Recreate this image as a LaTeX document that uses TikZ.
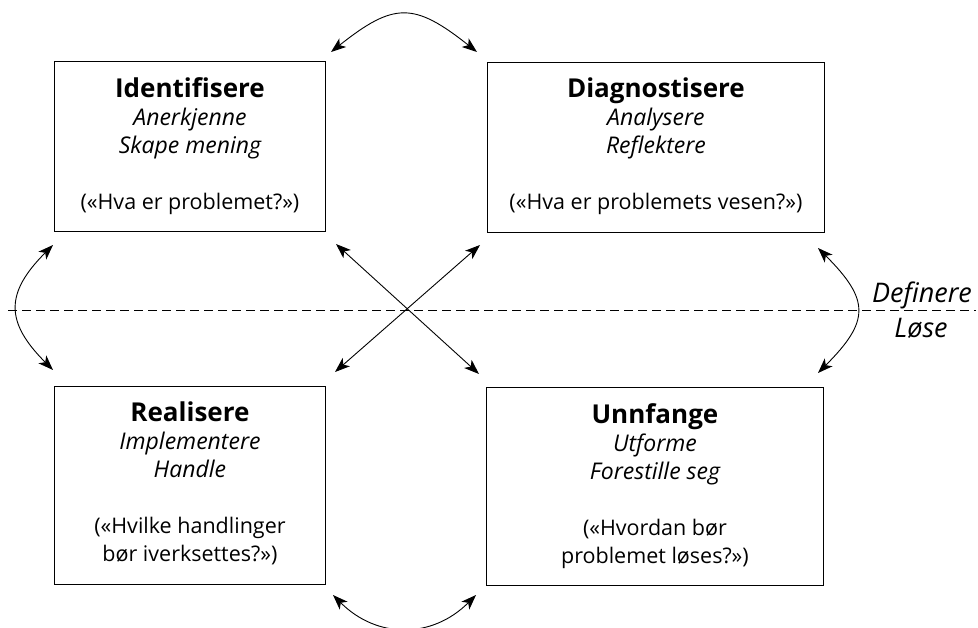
\documentclass[tikz,border=0pt]{standalone}
\usepackage{fontspec}
\setmainfont{Open Sans}
\usetikzlibrary{arrows.meta,calc}

\begin{document}
\begin{tikzpicture}[x=1pt,y=1pt,
  stagebox/.style={draw, line width=0.9pt, inner sep=0pt, anchor=north west},
  stagetext/.style={anchor=north, inner sep=0pt, align=center,
    font=\fontsize{21.5}{28}\selectfont},
  link/.style={line width=0.9pt, {Stealth[length=15pt,width=11pt,inset=4pt]}-{Stealth[length=15pt,width=11pt,inset=4pt]}},
  divider/.style={line width=0.8pt, dash pattern=on 9pt off 5pt},
  sidelabel/.style={anchor=base, inner sep=0pt, font=\fontsize{27}{30}\selectfont\itshape}
]
\useasboundingbox (0,0) rectangle (978,-628);

% the four stage boxes
\node[stagebox, minimum width=271pt, minimum height=170pt] (I) at (54,-61) {};
\node[stagebox, minimum width=337pt, minimum height=170pt] (D) at (487,-62) {};
\node[stagebox, minimum width=271pt, minimum height=198pt] (R) at (54,-386) {};
\node[stagebox, minimum width=337pt, minimum height=198pt] (U) at (486,-387) {};

\newcommand{\stagetitle}[1]{{\fontsize{26}{28}\selectfont\bfseries #1}}
\newcommand{\stageverb}[1]{{\fontsize{23}{28}\selectfont\itshape #1}}

\node[stagetext] (It) at ($(I.north)+(0,-16)$)
  {\stagetitle{Identifisere}\\ \stageverb{Anerkjenne}\\ \stageverb{Skape mening}\\[28pt] («Hva er problemet?»)};
\node[stagetext] (Dt) at ($(D.north)+(0,-16)$)
  {\stagetitle{Diagnostisere}\\ \stageverb{Analysere}\\ \stageverb{Reflektere}\\[28pt] («Hva er problemets vesen?»)};
\node[stagetext] (Rt) at ($(R.north)+(0,-16)$)
  {\stagetitle{Realisere}\\ \stageverb{Implementere}\\ \stageverb{Handle}\\[28pt] («Hvilke handlinger\\ bør iverksettes?»)};
\node[stagetext] (Ut) at ($(U.north)+(0,-16)$)
  {\stagetitle{Unnfange}\\ \stageverb{Utforme}\\ \stageverb{Forestille seg}\\[28pt] («Hvordan bør\\ problemet løses?»)};

% dividing line between defining and solving
\coordinate (dl) at (8,-310);
\coordinate (dr) at (976,-310);
\draw[divider] (dl) -- (dr);
\node[sidelabel] (def) at (922,-303) {Definere};
\node[sidelabel] (los) at (921,-338) {Løse};

% arrow end points near the box corners
\coordinate (top1) at (331,-52);
\coordinate (top2) at (477,-52);
\coordinate (bot1) at (333,-595);
\coordinate (bot2) at (476,-595);
\coordinate (lft1) at (53,-245);
\coordinate (lft2) at (53,-370);
\coordinate (rgt1) at (818,-248);
\coordinate (rgt2) at (818,-373);
\coordinate (xa) at (336,-244);
\coordinate (xb) at (479,-374);
\coordinate (xc) at (480,-245);
\coordinate (xd) at (335,-372);

% curved links
\draw[link] (top1) .. controls (394,-2) and (414,-2) .. (top2);
\draw[link] (bot1) .. controls (377,-639) and (432,-639) .. (bot2);
\draw[link] (lft1) .. controls (5,-293) and (5,-322) .. (lft2);
\draw[link] (rgt1) .. controls (870,-300) and (870,-321) .. (rgt2);

% diagonal links
\draw[link] (xa) -- (xb);
\draw[link] (xc) -- (xd);
\end{tikzpicture}
\end{document}
